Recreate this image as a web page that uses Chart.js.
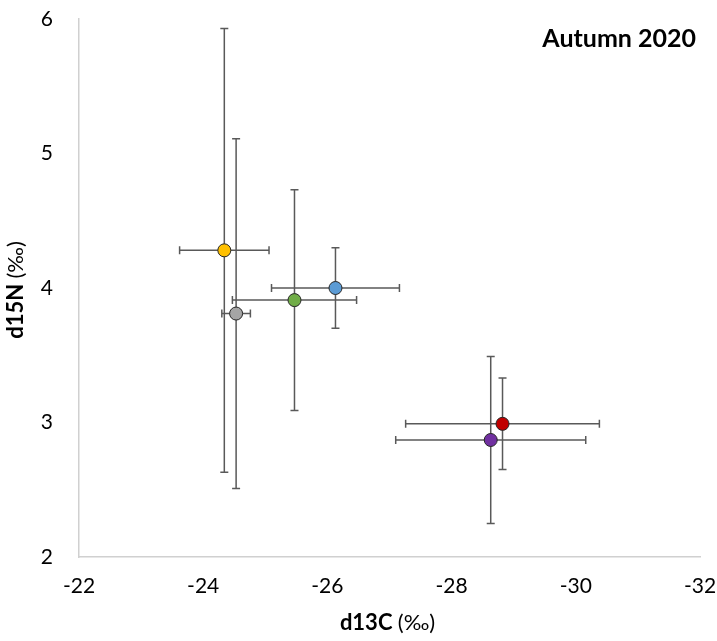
<!DOCTYPE html>
<html>
<head>
<meta charset="utf-8">
<script src="https://cdn.jsdelivr.net/npm/chart.js@4.4.1/dist/chart.umd.min.js"></script>
<style>
  html, body { margin: 0; padding: 0; background: #fff; }
  #wrap { width: 717px; height: 641px; }
</style>
</head>
<body>
<div id="wrap"><canvas id="isoChart"></canvas></div>
<script>
const groups = ['Yellow', 'Grey', 'Green', 'Blue', 'Red', 'Purple'];
const d13C = [-24.34, -24.53, -25.47, -26.13, -28.82, -28.63];
const d15N = [4.28, 3.81, 3.91, 4.00, 2.99, 2.87];
const d13CErr = [0.72, 0.23, 1.00, 1.03, 1.56, 1.53];
const d15NErr = [1.65, 1.30, 0.82, 0.30, 0.34, 0.62];
const xTicks = [-22, -24, -26, -28, -30, -32];
const yTicks = [2, 3, 4, 5, 6];

const fills = ['#FFC000', '#A5A5A5', '#70AD47', '#5B9BD5', '#C00000', '#7030A0'];
const fontFamily = 'Lato, "Open Sans", sans-serif';

const datasets = groups.map(function(name, i) {
    return {
        label: name,
        data: [{ x: d13C[i], y: d15N[i], xErr: d13CErr[i], yErr: d15NErr[i] }],
        backgroundColor: fills[i],
        borderColor: '#262626',
        borderWidth: 1,
        pointRadius: 6.5
    };
});

// error bars, drawn under the markers
const errorBars = {
    id: 'errorBars',
    beforeDatasetsDraw: function(chart) {
        const c = chart.ctx;
        const xs = chart.scales.x;
        const ys = chart.scales.y;
        const cap = 4;
        c.save();
        c.strokeStyle = '#595959';
        c.lineWidth = 1.5;
        chart.data.datasets.forEach(function(ds) {
            ds.data.forEach(function(p) {
                const px = xs.getPixelForValue(p.x);
                const py = ys.getPixelForValue(p.y);
                const x1 = xs.getPixelForValue(p.x - p.xErr);
                const x2 = xs.getPixelForValue(p.x + p.xErr);
                const y1 = ys.getPixelForValue(p.y - p.yErr);
                const y2 = ys.getPixelForValue(p.y + p.yErr);
                c.beginPath();
                c.moveTo(x1, py); c.lineTo(x2, py);
                c.moveTo(x1, py - cap); c.lineTo(x1, py + cap);
                c.moveTo(x2, py - cap); c.lineTo(x2, py + cap);
                c.moveTo(px, y1); c.lineTo(px, y2);
                c.moveTo(px - cap, y1); c.lineTo(px + cap, y1);
                c.moveTo(px - cap, y2); c.lineTo(px + cap, y2);
                c.stroke();
            });
        });
        c.restore();
    }
};

// bold name + regular unit, centred on (x, y)
function mixedTitle(c, boldPart, plainPart, x, y, size) {
    const bold = 'bold ' + size + 'px ' + fontFamily;
    const plain = size + 'px ' + fontFamily;
    c.font = bold;
    const w1 = c.measureText(boldPart).width;
    c.font = plain;
    const w2 = c.measureText(plainPart).width;
    let start = x - (w1 + w2) / 2;
    c.textAlign = 'left';
    c.textBaseline = 'middle';
    c.font = bold;
    c.fillText(boldPart, start, y);
    c.font = plain;
    c.fillText(plainPart, start + w1, y);
}

const textLabels = {
    id: 'textLabels',
    afterDraw: function(chart) {
        const c = chart.ctx;
        const a = chart.chartArea;
        c.save();
        c.fillStyle = '#000';
        c.font = 'bold 25px ' + fontFamily;
        c.textAlign = 'right';
        c.textBaseline = 'middle';
        c.fillText('Autumn 2020', a.right - 4, a.top + 20);

        mixedTitle(c, 'd13C ', '(‰)', (a.left + a.right) / 2 - 2, 623, 22);

        c.translate(16, (a.top + a.bottom) / 2 + 2);
        c.rotate(-Math.PI / 2);
        mixedTitle(c, 'd15N ', '(‰)', 0, 0, 22);
        c.restore();
    }
};

const tickFont = { family: fontFamily, size: 21 };

new Chart(document.getElementById('isoChart'), {
    type: 'scatter',
    data: { datasets: datasets },
    plugins: [errorBars, textLabels],
    options: {
        responsive: true,
        maintainAspectRatio: false,
        animation: false,
        layout: { padding: { top: 19, right: 17, left: 0, bottom: 0 } },
        plugins: { legend: { display: false }, tooltip: { enabled: false } },
        scales: {
            x: {
                type: 'linear',
                reverse: true,
                min: -32,
                max: -22,
                afterBuildTicks: function(s) { s.ticks = xTicks.map(v => ({ value: v })); },
                afterFit: function(s) {
                    s.height = 84;
                    s.paddingLeft = 0;
                    s.paddingRight = 0;
                },
                grid: { display: false, drawTicks: false },
                border: { display: true, color: '#D0D0D0', width: 1.5 },
                ticks: { color: '#000', font: tickFont, padding: 17, maxRotation: 0 }
            },
            y: {
                type: 'linear',
                min: 2,
                max: 6,
                afterBuildTicks: function(s) { s.ticks = yTicks.map(v => ({ value: v })); },
                afterFit: function(s) {
                    s.width = 79;
                    s.paddingTop = 0;
                    s.paddingBottom = 0;
                },
                grid: { display: false, drawTicks: false },
                border: { display: true, color: '#D0D0D0', width: 1.5 },
                ticks: { color: '#000', font: tickFont, padding: 26 }
            }
        }
    }
});
</script>
</body>
</html>
